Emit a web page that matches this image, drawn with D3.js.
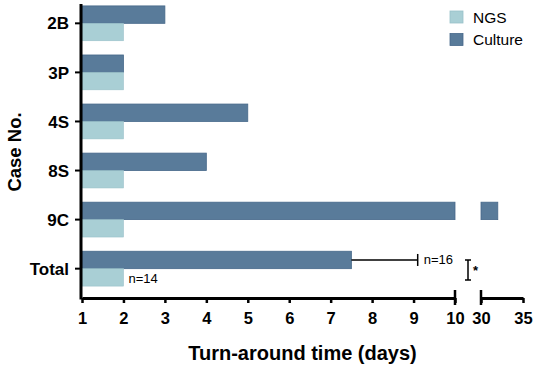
<!DOCTYPE html>
<html><head><meta charset="utf-8">
<script src="https://cdn.jsdelivr.net/npm/d3@7"></script>
<style>
body{margin:0;background:#fff;}
text{font-family:Arial,"Liberation Sans",sans-serif;}
</style></head>
<body><svg id="c" width="536" height="367"></svg>
<script>
const categories = ["2B","3P","4S","8S","9C","Total"];
const ngsValues = [2,2,2,2,2,2];
const cultureValues = [3,2,5,4,32,7.5];
const totalCultureUpper = 9.1;
const nLabels = {ngs:"n=14", culture:"n=16"};
const ticksLow = [1,2,3,4,5,6,7,8,9,10];
const ticksHigh = [30,35];
const legendItems = ["NGS","Culture"];

const colors = {ngs:"#a9cfd5", ngsStroke:"#98c1c8", culture:"#597b9a", cultureStroke:"#46688a"};

const svg = d3.select("#c");
const xLow = d3.scaleLinear().domain([1,10]).range([82,455]);
const xHigh = d3.scaleLinear().domain([30,35]).range([481,523]);
const y = d3.scaleBand().domain(categories).range([-1.2,293.2]).paddingInner(0.29).paddingOuter(0.145);
const bh = y.bandwidth()/2;

const data = categories.map((c,i)=>({c, ngs:ngsValues[i], culture:cultureValues[i]}));

// culture bars (possibly broken)
const g = svg.append("g");
data.forEach(d=>{
  const y0 = y(d.c);
  const segs = [[1, Math.min(d.culture,10), xLow]];
  if (d.culture > 30) segs.push([30, d.culture, xHigh]);
  segs.forEach(([a,b,sc])=>{
    g.append("rect").attr("x",sc(a)).attr("y",y0).attr("width",sc(b)-sc(a)).attr("height",bh)
      .attr("fill",colors.culture).attr("stroke",colors.cultureStroke).attr("stroke-width",0.8);
  });
  g.append("rect").attr("x",xLow(1)).attr("y",y0+bh).attr("width",xLow(d.ngs)-xLow(1)).attr("height",bh)
    .attr("fill",colors.ngs).attr("stroke",colors.ngsStroke).attr("stroke-width",0.6);
});

// error bar on Total culture
const tY = y("Total") + bh/2;
const tot = data[data.length-1];
svg.append("line").attr("x1",xLow(tot.culture)).attr("x2",xLow(totalCultureUpper)).attr("y1",tY).attr("y2",tY)
  .attr("stroke","#000").attr("stroke-width",1.5);
svg.append("line").attr("x1",xLow(totalCultureUpper)).attr("x2",xLow(totalCultureUpper)).attr("y1",tY-6).attr("y2",tY+6)
  .attr("stroke","#000").attr("stroke-width",1.5);
svg.append("text").attr("x",xLow(totalCultureUpper)+6).attr("y",tY+4.5).attr("font-size",13).text(nLabels.culture);
svg.append("text").attr("x",xLow(2)+5).attr("y",y("Total")+bh+14).attr("font-size",13).text(nLabels.ngs);

// significance bracket
const bx = 468, bTop = y("Total")+bh/2, bBot = bTop+20;
svg.append("path").attr("d",`M${bx-3},${bTop}H${bx+3}M${bx},${bTop}V${bBot}M${bx-3},${bBot}H${bx+3}`)
  .attr("stroke","#000").attr("stroke-width",1.5).attr("fill","none");
svg.append("text").attr("x",bx+5).attr("y",bTop+15).attr("font-size",13).attr("font-weight","bold").text("*");

// x axes
const axY = 298;
function drawAxis(sc, ticks, capLeft, capRight){
  const ax = svg.append("g").attr("transform",`translate(0,${axY})`)
    .call(d3.axisBottom(sc).tickValues(ticks).tickFormat(d3.format("d")).tickSize(5).tickPadding(9).tickSizeOuter(0));
  ax.select(".domain").attr("stroke-width",3);
  ax.selectAll(".tick line").attr("stroke-width",2.5);
  ax.selectAll(".tick text").attr("font-size",16.5).attr("font-weight","bold").attr("fill","#000");
  if (capRight!==null) svg.append("line").attr("x1",sc(capRight)).attr("x2",sc(capRight)).attr("y1",axY-8).attr("y2",axY+7).attr("stroke","#000").attr("stroke-width",2.5);
  if (capLeft!==null) svg.append("line").attr("x1",sc(capLeft)).attr("x2",sc(capLeft)).attr("y1",axY-8).attr("y2",axY+7).attr("stroke","#000").attr("stroke-width",2.5);
}
drawAxis(xLow, ticksLow, null, 10);
drawAxis(xHigh, ticksHigh, 30, null);

// y axis
const yAx = svg.append("g").attr("transform","translate(81,0)")
  .call(d3.axisLeft(y).tickSize(6).tickPadding(6).tickSizeOuter(0));
yAx.select(".domain").attr("d",`M0,4V${axY+1.5}`).attr("stroke-width",3);
yAx.selectAll(".tick line").attr("stroke-width",2);
yAx.selectAll(".tick text").attr("font-size",17).attr("font-weight","bold").attr("fill","#000").attr("dy","0.36em");

// titles
svg.append("text").attr("x",(82+523)/2).attr("y",360).attr("text-anchor","middle").attr("font-size",20).attr("font-weight","bold").text("Turn-around time (days)");
svg.append("text").attr("transform",`translate(21,152) rotate(-90)`).attr("text-anchor","middle").attr("font-size",18.5).attr("font-weight","bold").text("Case No.");

// legend
const lg = svg.append("g").attr("transform","translate(450,11)");
legendItems.forEach((t,i)=>{
  lg.append("rect").attr("x",0).attr("y",i*22.5).attr("width",13).attr("height",12)
    .attr("fill",i===0?colors.ngs:colors.culture).attr("stroke",i===0?colors.ngsStroke:colors.cultureStroke).attr("stroke-width",0.8);
  lg.append("text").attr("x",23).attr("y",i*22.5+11.5).attr("font-size",15.5).text(t);
});
</script></body></html>
